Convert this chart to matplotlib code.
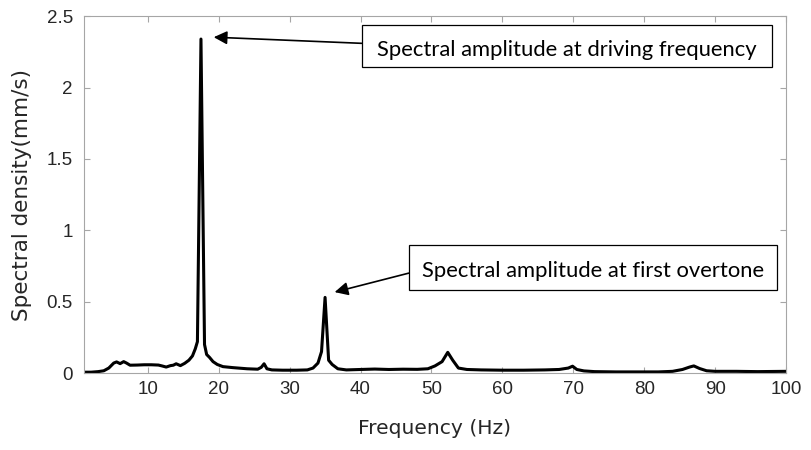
import numpy as np
import matplotlib
matplotlib.use('Agg')
import matplotlib.pyplot as plt
from matplotlib.patches import Rectangle

# spectrum (Hz, mm/s)
freq = [1.0, 2.0, 3.0, 3.8, 4.5, 5.2, 5.6, 6.1, 6.6, 7.0, 7.5, 8.5, 9.5,
        10.5, 11.5, 12.0, 12.6, 13.2, 13.6, 14.0, 14.6, 15.2, 15.8, 16.3,
        16.7, 17.0, 17.5, 18.0, 18.3, 18.7, 19.2, 19.8, 20.6, 22.0, 24.0,
        25.5, 26.0, 26.4, 26.8, 27.5, 29.0, 31.0, 32.5, 33.3, 34.0, 34.5,
        35.0, 35.5, 36.0, 36.8, 38.0, 40.0, 42.0, 44.0, 46.0, 48.0, 49.5,
        50.5, 51.5, 52.3, 53.0, 53.8, 55.0, 57.0, 60.0, 63.0, 66.0, 68.0,
        69.3, 69.9, 70.5, 71.5, 73.0, 76.0, 79.0, 82.0, 84.0, 85.4, 86.4,
        87.0, 87.8, 88.8, 90.0, 93.0, 96.0, 100.0]
amp = [0.006, 0.006, 0.010, 0.016, 0.035, 0.070, 0.078, 0.066, 0.080, 0.070,
       0.055, 0.056, 0.058, 0.058, 0.056, 0.050, 0.042, 0.052, 0.055, 0.065,
       0.052, 0.068, 0.090, 0.120, 0.170, 0.220, 2.340, 0.200, 0.130, 0.110,
       0.080, 0.060, 0.045, 0.038, 0.030, 0.027, 0.040, 0.065, 0.030, 0.022,
       0.020, 0.020, 0.022, 0.035, 0.070, 0.150, 0.530, 0.090, 0.060, 0.030,
       0.022, 0.025, 0.028, 0.025, 0.027, 0.026, 0.030, 0.050, 0.080, 0.145,
       0.090, 0.035, 0.025, 0.022, 0.020, 0.020, 0.022, 0.025, 0.035, 0.048,
       0.025, 0.015, 0.010, 0.008, 0.008, 0.008, 0.012, 0.025, 0.042, 0.050,
       0.032, 0.016, 0.012, 0.012, 0.010, 0.012]

note1 = 'Spectral amplitude at driving frequency'
note2 = 'Spectral amplitude at first overtone'

fig = plt.figure(figsize=(8.12, 4.5), dpi=100)
ax = fig.add_axes([0.1034, 0.171, 0.8646, 0.793])

ax.plot(freq, amp, color='black', lw=2.2, solid_joinstyle='round')

ax.set_xlim(1, 100)
ax.set_ylim(0, 2.5)
ax.set_xticks(np.arange(10, 101, 10))
ax.set_yticks([0, 0.5, 1, 1.5, 2, 2.5])
ax.set_yticklabels(['0', '0.5', '1', '1.5', '2', '2.5'])

for s in ax.spines.values():
    s.set_color('#a6a6a6')
    s.set_linewidth(0.8)
ax.tick_params(direction='in', length=4, width=0.8, color='#a6a6a6',
               top=True, right=True, labelsize=13.5, labelcolor='#262626')
ax.tick_params(axis='x', pad=6)
ax.tick_params(axis='y', pad=8)
for lb in ax.get_xticklabels() + ax.get_yticklabels():
    lb.set_family('Liberation Sans')

ax.set_xlabel('Frequency (Hz)', fontsize=14.6, family='DejaVu Sans',
              color='#262626')
ax.xaxis.set_label_coords(0.5, -0.128)
ax.set_ylabel('Spectral density(mm/s)', fontsize=15.5, family='DejaVu Sans',
              color='#262626')
ax.yaxis.set_label_coords(-0.074, 0.5)

arw = dict(arrowstyle='-|>', color='black', lw=1.2, mutation_scale=20,
           shrinkA=0, shrinkB=0)

# boxed notes with arrows
ax.add_patch(Rectangle((40.15, 2.143), 57.9, 0.294, fc='white', ec='black',
                       lw=0.9, clip_on=False, zorder=3))
ax.text(69.1, 2.22, note1, ha='center', va='baseline', fontsize=15.8,
        family='Lato', color='black', zorder=4)
ax.annotate('', xy=(19.3, 2.353), xytext=(40.15, 2.31), arrowprops=arw)

ax.add_patch(Rectangle((46.9, 0.581), 51.8, 0.315, fc='white', ec='black',
                       lw=0.9, clip_on=False, zorder=3))
ax.text(72.8, 0.672, note2, ha='center', va='baseline', fontsize=15.8,
        family='Lato', color='black', zorder=4)
ax.annotate('', xy=(36.35, 0.567), xytext=(46.8, 0.70), arrowprops=arw)

fig.savefig('out.png', dpi=100)
